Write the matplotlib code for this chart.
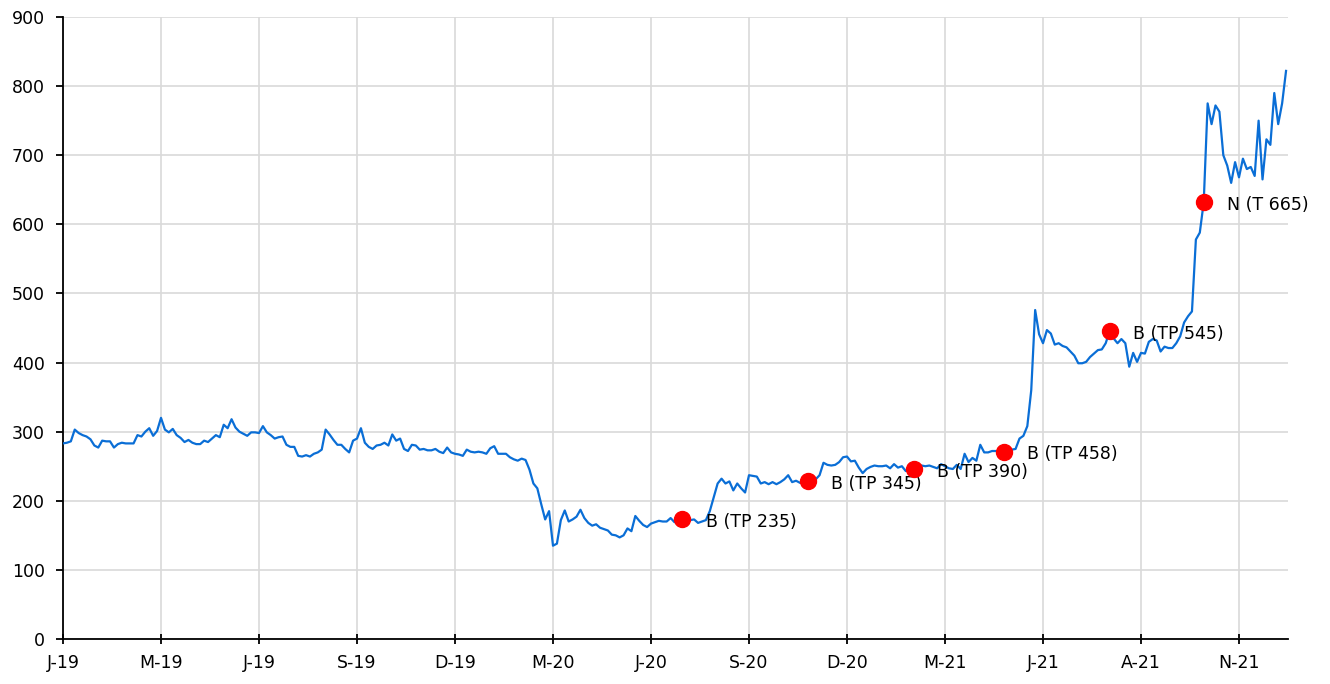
import numpy as np
import matplotlib.pyplot as plt

# closing prices, one sample every ~2.5 trading days, Jan-19 .. Dec-21
precio = [
    283, 284, 286, 303, 298, 295, 293, 289, 280, 277, 287, 286, 286, 277, 282, 284, 283, 283, 283, 295, 293, 300, 305, 294, 301,
    320, 303, 299, 304, 295, 291, 285, 288, 284, 282, 282, 287, 285, 290, 295, 292, 310, 305, 318, 306, 300, 297, 294, 299, 299,
    298, 308, 299, 295, 290, 292, 293, 281, 278, 278, 265, 264, 266, 264, 268, 270, 274, 303, 296, 288, 281, 281, 275, 270, 287,
    290, 305, 284, 278, 275, 280, 281, 284, 280, 296, 287, 290, 275, 272, 281, 280, 274, 275, 273, 273, 275, 271, 269, 277, 270,
    268, 267, 265, 274, 271, 270, 271, 270, 268, 276, 279, 268, 268, 268, 263, 260, 258, 261, 259, 245, 225, 218, 195, 173, 185,
    135, 138, 172, 186, 170, 173, 177, 187, 175, 168, 164, 166, 161, 159, 157, 151, 150, 147, 150, 160, 156, 178, 171, 165, 162,
    167, 169, 171, 170, 170, 175, 169, 172, 173, 172, 172, 173, 168, 170, 172, 185, 205, 225, 232, 225, 228, 215, 225, 218, 212,
    237, 236, 235, 225, 227, 224, 227, 224, 227, 231, 237, 227, 229, 226, 225, 228, 228, 231, 237, 255, 252, 251, 252, 256, 263,
    264, 257, 258, 248, 240, 246, 249, 251, 250, 250, 251, 247, 253, 248, 250, 243, 246, 246, 250, 251, 250, 251, 249, 247, 253,
    250, 247, 246, 252, 246, 268, 256, 262, 258, 281, 270, 270, 272, 272, 272, 271, 272, 274, 275, 290, 294, 308, 360, 476, 441,
    428, 447, 442, 426, 428, 424, 422, 416, 410, 399, 399, 401, 408, 413, 418, 419, 428, 446, 435, 428, 434, 428, 394, 414, 401,
    414, 413, 430, 434, 432, 416, 423, 421, 421, 428, 438, 458, 467, 474, 578, 588, 632, 775, 745, 772, 763, 700, 685, 660, 690,
    668, 695, 680, 683, 670, 750, 665, 723, 715, 790, 745, 775, 822,
]

etiquetas_x = ['J-19', 'M-19', 'J-19', 'S-19', 'D-19', 'M-20', 'J-20',
               'S-20', 'D-20', 'M-21', 'J-21', 'A-21', 'N-21']
paso = 25

# recomendaciones (posicion en la serie, texto)
rec_idx = [158, 190, 217, 240, 267, 291]
rec_txt = ['B (TP 235)', 'B (TP 345)', 'B (TP 390)', 'B (TP 458)', 'B (TP 545)', 'N (T 665)']

y = np.array(precio)
x = np.arange(len(y))

fig = plt.figure(figsize=(13.3, 6.84), dpi=100)
ax = fig.add_axes([63/1330, 1-639/684, 1225/1330, 622/684])

ax.plot(x, y, color='#0a6ed6', lw=1.6, zorder=3)
ax.plot(x[rec_idx], y[rec_idx], 'o', color='#ff0000', ms=11.5, zorder=4)
for i, t in zip(rec_idx, rec_txt):
    ax.annotate(t, (x[i], y[i]), xytext=(17, -2), textcoords='offset points',
                va='center', ha='left', fontsize=12.5, color='black')

ax.set_xlim(0, 312.5)
ax.set_ylim(0, 900)
ax.set_yticks(np.arange(0, 901, 100))
ax.set_xticks(np.arange(len(etiquetas_x))*paso)
ax.set_xticklabels(etiquetas_x)

ax.grid(True, color='#d9d9d9', lw=1.2)
ax.set_axisbelow(True)
for s in ['top', 'right']:
    ax.spines[s].set_visible(False)
for s in ['left', 'bottom']:
    ax.spines[s].set_linewidth(1.3)
ax.tick_params(axis='y', direction='out', length=5, width=1.3, labelsize=12.5, pad=8)
ax.tick_params(axis='x', direction='inout', length=7, width=1.3, labelsize=12.5, pad=7)

fig.savefig('out.png', dpi=100)
